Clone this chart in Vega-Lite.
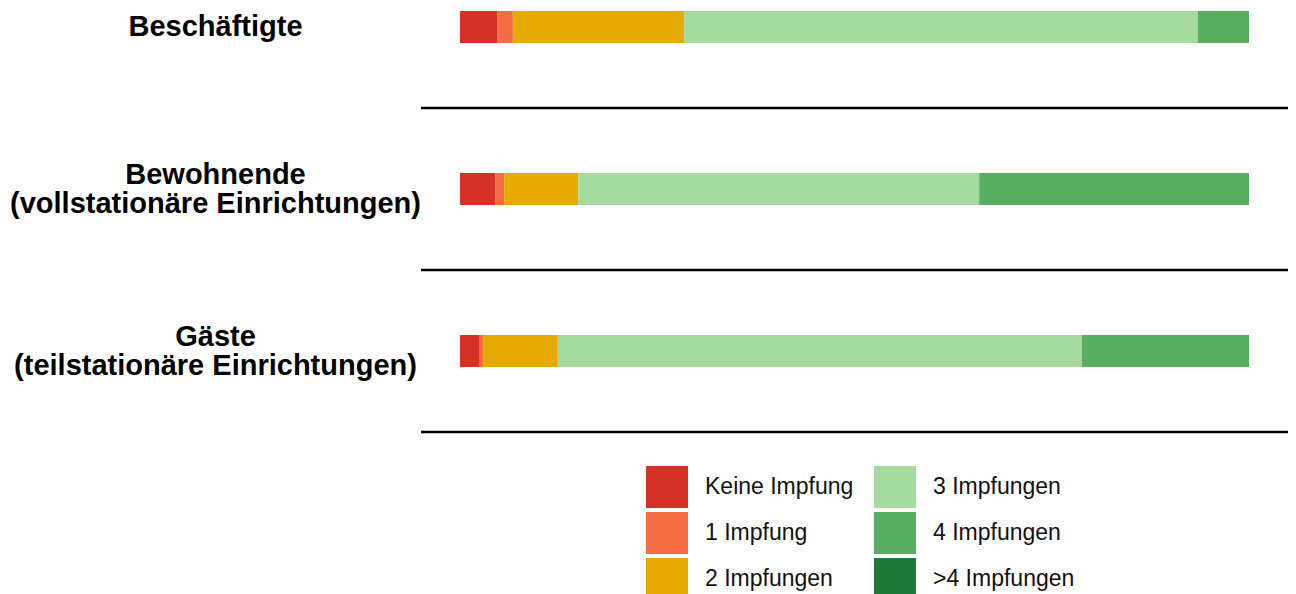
{
  "$schema": "https://vega.github.io/schema/vega-lite/v6.json",
  "autosize": "none",
  "padding": {"left": 421, "top": 0, "right": 8, "bottom": 0},
  "width": 867,
  "height": 594,
  "background": "white",
  "config": {"view": {"stroke": null}},
  "datasets": {
    "seg": [
      {"group": "Beschäftigte", "cat": "Keine Impfung", "k": 0, "pct": 4.7},
      {"group": "Beschäftigte", "cat": "1 Impfung", "k": 1, "pct": 2.0},
      {"group": "Beschäftigte", "cat": "2 Impfungen", "k": 2, "pct": 21.7},
      {"group": "Beschäftigte", "cat": "3 Impfungen", "k": 3, "pct": 65.1},
      {"group": "Beschäftigte", "cat": "4 Impfungen", "k": 4, "pct": 6.5},
      {"group": "Beschäftigte", "cat": ">4 Impfungen", "k": 5, "pct": 0},
      {"group": "Bewohnende\n(vollstationäre Einrichtungen)", "cat": "Keine Impfung", "k": 0, "pct": 4.5},
      {"group": "Bewohnende\n(vollstationäre Einrichtungen)", "cat": "1 Impfung", "k": 1, "pct": 1.1},
      {"group": "Bewohnende\n(vollstationäre Einrichtungen)", "cat": "2 Impfungen", "k": 2, "pct": 9.4},
      {"group": "Bewohnende\n(vollstationäre Einrichtungen)", "cat": "3 Impfungen", "k": 3, "pct": 50.8},
      {"group": "Bewohnende\n(vollstationäre Einrichtungen)", "cat": "4 Impfungen", "k": 4, "pct": 34.2},
      {"group": "Bewohnende\n(vollstationäre Einrichtungen)", "cat": ">4 Impfungen", "k": 5, "pct": 0},
      {"group": "Gäste\n(teilstationäre Einrichtungen)", "cat": "Keine Impfung", "k": 0, "pct": 2.5},
      {"group": "Gäste\n(teilstationäre Einrichtungen)", "cat": "1 Impfung", "k": 1, "pct": 0.5},
      {"group": "Gäste\n(teilstationäre Einrichtungen)", "cat": "2 Impfungen", "k": 2, "pct": 9.4},
      {"group": "Gäste\n(teilstationäre Einrichtungen)", "cat": "3 Impfungen", "k": 3, "pct": 66.4},
      {"group": "Gäste\n(teilstationäre Einrichtungen)", "cat": "4 Impfungen", "k": 4, "pct": 21.2},
      {"group": "Gäste\n(teilstationäre Einrichtungen)", "cat": ">4 Impfungen", "k": 5, "pct": 0}
    ],
    "groups": [
      {"group": "Beschäftigte"},
      {"group": "Bewohnende\n(vollstationäre Einrichtungen)"},
      {"group": "Gäste\n(teilstationäre Einrichtungen)"}
    ]
  },
  "layer": [
    {
      "data": {"name": "seg"},
      "mark": {"type": "bar", "height": 32},
      "encoding": {
        "y": {
          "field": "group",
          "type": "nominal",
          "sort": null,
          "scale": {
            "domain": ["Beschäftigte", "Bewohnende\n(vollstationäre Einrichtungen)", "Gäste\n(teilstationäre Einrichtungen)"],
            "range": [-54, 432],
            "paddingInner": 0,
            "paddingOuter": 0
          },
          "axis": {
            "title": null,
            "ticks": false,
            "domain": false,
            "labelExpr": "split(datum.label, '\\n')",
            "labelAlign": "center",
            "labelBaseline": "middle",
            "labelPadding": 206,
            "labelOffset": {"condition": {"test": "indexof(datum.label, '\\n') >= 0", "value": -14}, "value": 0},
            "labelFont": "Liberation Sans",
            "labelFontSize": 29,
            "labelFontWeight": "bold",
            "labelColor": "#000000",
            "labelLineHeight": 29,
            "labelLimit": 600
          }
        },
        "x": {
          "field": "pct",
          "type": "quantitative",
          "stack": "zero",
          "scale": {"domain": [0, 100], "range": [39, 828], "nice": false},
          "axis": null
        },
        "order": {"field": "k", "type": "quantitative"},
        "color": {
          "field": "cat",
          "type": "nominal",
          "scale": {
            "domain": ["Keine Impfung", "1 Impfung", "2 Impfungen", "3 Impfungen", "4 Impfungen", ">4 Impfungen"],
            "range": ["#d73027", "#f46d43", "#e6ab02", "#a6dba0", "#5aae61", "#1b7837"]
          },
          "legend": {
            "title": null,
            "orient": "none",
            "legendX": 225,
            "legendY": 466,
            "columns": 2,
            "symbolType": "square",
            "symbolSize": 1764,
            "symbolStrokeWidth": 0,
            "symbolOpacity": 1,
            "labelFont": "Liberation Sans",
            "labelFontSize": 23,
            "labelColor": "#111111",
            "labelOffset": 17,
            "rowPadding": 4,
            "columnPadding": 20,
            "labelLimit": 400
          }
        }
      }
    },
    {
      "data": {"name": "groups"},
      "mark": {"type": "rule", "color": "#000000", "strokeWidth": 2.6},
      "encoding": {
        "y": {"field": "group", "type": "nominal", "bandPosition": 1, "sort": null}
      }
    }
  ]
}
